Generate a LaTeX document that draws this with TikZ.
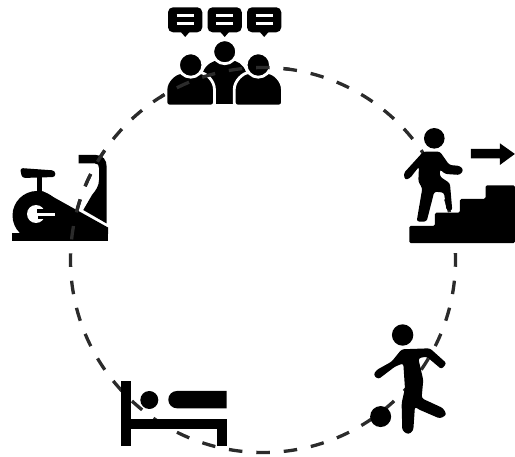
\documentclass[tikz,border=0pt]{standalone}
\usepackage{xcolor}
\definecolor{ringGray}{HTML}{2B2B2B}
\tikzset{
    iconFill/.style={fill=black, draw=none},
    iconGap/.style={fill=black, draw=white, line width=2.8pt},
    barWhite/.style={draw=white, line width=2.6pt},
    ringLine/.style={draw=ringGray, line width=3.3pt, dash pattern=on 13.5pt off 13.988pt, dash phase=6.75pt}
}
\begin{document}
\begin{tikzpicture}[x=1pt, y=-1pt]
    \useasboundingbox (0,0) rectangle (515,457);
    % ring, under stairs, kicker and bed
    \draw[ringLine] (263,260) circle (192.5);
    % climbing stairs
    \begin{scope}[shift={(395,120)}, x=0.333pt, y=-0.333pt]
        \fill[iconFill, rounded corners=1.5pt] (43,318) -- (120,318) -- (120,278) -- (195,278) -- (195,237) -- (272,237)
            -- (272,196) -- (360,196) -- (360,370) -- (43,370) -- cycle;
        \fill[iconFill] (228,87) -- (315,87) -- (315,70) -- (360,102) -- (315,135) -- (315,115) -- (228,115) -- cycle;
        \fill[iconFill] (118,55) circle (10.3pt);
        \fill[iconFill, rounded corners=2.5pt] (85,95) -- (135,95) -- (163,135) -- (195,138) -- (206,150) -- (195,165)
            -- (150,162) -- (135,148) -- (135,170) -- (165,190) -- (172,272) -- (155,272) -- (147,218) -- (118,215)
            -- (95,305) -- (65,305) -- (82,205) -- (70,185) -- (72,140) -- (45,175) -- (30,180) -- (26,160) -- cycle;
    \end{scope}
    % kicking a ball
    \begin{scope}[shift={(360,320)}, x=0.333pt, y=-0.333pt]
        \fill[iconFill] (128,45) circle (10.7pt);
        \fill[iconFill] (62,290) circle (10.5pt);
        \fill[iconFill, rounded corners=2.5pt] (125,88) -- (210,85) -- (260,130) -- (245,148) -- (200,110) -- (175,115)
            -- (190,180) -- (185,235) -- (250,265) -- (260,285) -- (240,296) -- (175,268) -- (165,260) -- (160,332)
            -- (145,344) -- (127,332) -- (125,250) -- (135,205) -- (130,130) -- (105,140) -- (55,178) -- (40,165)
            -- (50,150) -- (95,125) -- cycle;
    \end{scope}
    % lying in bed
    \fill[iconFill] (121,380.7) rectangle (130.7,446);
    \fill[iconFill] (130.7,419) rectangle (226.7,429.3);
    \fill[iconFill] (216.7,429) rectangle (226.7,446);
    \fill[iconFill] (149.3,400) circle (9);
    \fill[iconFill] (226.7,391) [rounded corners=8.6pt] -- (168.3,391) -- (168.3,408.3) [sharp corners] -- (226.7,408.3) -- cycle;
    % group with speech bubbles
    \foreach \bx in {168,207.5,247}{
        \fill[black, rounded corners=5pt] (\bx,7.3) rectangle ++(34.3,25);
        \fill[black] (\bx+12,31) -- (\bx+17.2,37) -- (\bx+22.4,31) -- cycle;
        \draw[barWhite] (\bx+8.5,15.7) -- ++(17.3,0);
        \draw[barWhite] (\bx+8.5,23.3) -- ++(17.3,0);
    }
    \fill[iconFill] (216,104) -- (216,90) -- (200,90) -- (203,72) .. controls (206,64) and (214,60.5) .. (218,60.5)
        -- (231,60.5) .. controls (237,60.5) and (243,64) .. (246,72) -- (250,90) -- (233,90) -- (233,104) -- cycle;
    \draw[iconGap] (224.7,51.7) circle (12);
    \draw[iconGap, rounded corners=3pt] (166,106) -- (166,92) .. controls (166,81) and (175,72.6) .. (184,72.6)
        -- (197,72.6) .. controls (206,72.6) and (214.4,81) .. (214.4,92) -- (214.4,106) -- cycle;
    \draw[iconGap, rounded corners=3pt] (234.3,106) -- (234.3,92) .. controls (234.3,81) and (243,72.6) .. (252,72.6)
        -- (265,72.6) .. controls (274,72.6) and (282.4,81) .. (282.4,92) -- (282.4,106) -- cycle;
    \draw[iconGap] (190.7,65) circle (12.2);
    \draw[iconGap] (258.3,65) circle (12.2);
    % exercise bike
    \fill[iconFill] (12.3,233.3) rectangle (108,241);
    \fill[iconFill] (37,215.5) circle (24.5);
    \fill[iconFill] (37,191) -- (43,191.3) -- (108,227.5) -- (108,234) -- (37,234) -- cycle;
    \fill[iconFill, rounded corners=3pt] (20,168) -- (55,170.5) -- (55.5,177) -- (22,178) -- cycle;
    \fill[iconFill] (36.5,176) rectangle (41.5,194);
    \fill[iconFill] (78.5,155) -- (96,155) .. controls (103,155) and (106.7,160) .. (106.7,167)
        -- (106.7,223.5) -- (83.3,210) -- (92,195) .. controls (96,190) and (99,186) .. (99,180)
        -- (99,168) .. controls (99,165) and (98,163.5) .. (95,163.5) -- (78.5,163.5) -- cycle;
    \fill[white] (36,214) circle (9);
    \fill[black] (37,209.5) rectangle (46,212.7);
    \fill[black] (38,215.7) rectangle (46,219);
    \fill[white] (37,212.7) rectangle (55,215.7);
    % dashes showing over group and bike
    \begin{scope}
        \clip (160,50) rectangle (290,110) (0,140) rectangle (115,245);
        \draw[ringLine] (263,260) circle (192.5);
    \end{scope}
\end{tikzpicture}
\end{document}
